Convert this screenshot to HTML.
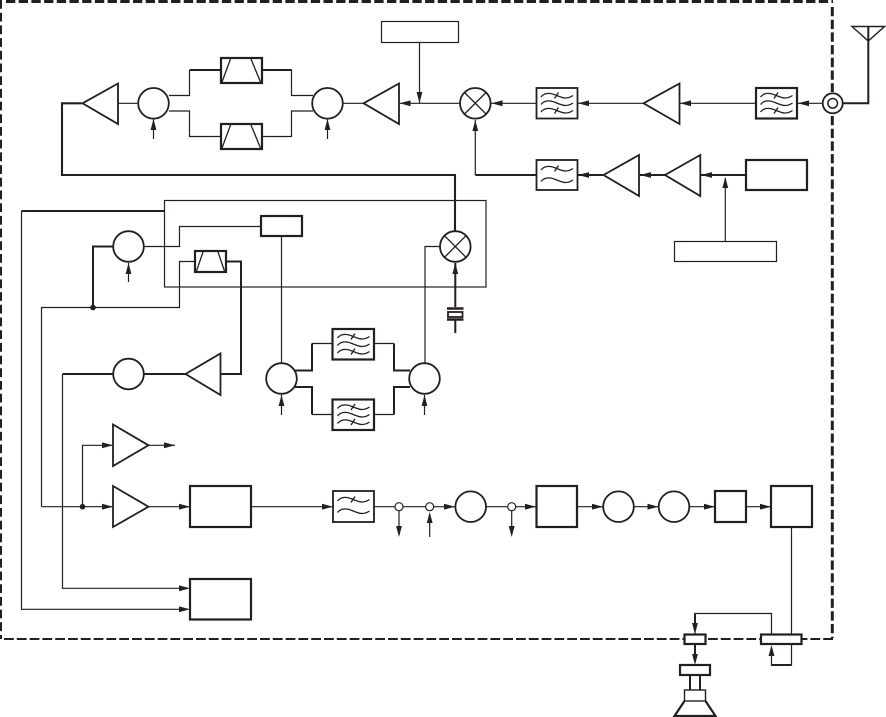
<!DOCTYPE html>
<html><head><meta charset="utf-8"><style>
html,body{margin:0;padding:0;background:#fff}
svg{display:block}
</style></head><body>
<svg width="886" height="717" viewBox="0 0 886 717" xmlns="http://www.w3.org/2000/svg" fill="none" stroke="#231f20" stroke-width="1.2">
<defs>
<path id="aL" d="M0 0L11 -2.900L11 2.900Z" fill="#231f20" stroke="none"/>
<path id="aR" d="M0 0L-11 -2.900L-11 2.900Z" fill="#231f20" stroke="none"/>
<path id="aU" d="M0 0L-2.900 11L2.900 11Z" fill="#231f20" stroke="none"/>
<path id="aD" d="M0 0L-2.900 -11L2.900 -11Z" fill="#231f20" stroke="none"/>
<g id="w3"><path d="M4.500 9C8 4.500 13 4.500 19 7S30 12 36.500 7.500M4.500 16.500C8 12 13 12 19 14.500S30 19.500 36.500 15M4.500 24C8 19.500 13 19.500 19 22S30 27 36.500 22.500M18 10.500L22 4.500M18 25.500L22 19.500" stroke-width="1.300"/></g>
<g id="w2"><path d="M4.500 10C8 5.500 13 5.500 19 8S30 13 36.500 8.500M4.500 21.500C8 17 13 17 19 19.500S30 24.500 36.500 20M18 11.500L22 5.500" stroke-width="1.300"/></g>
</defs>

<!-- dashed enclosure -->
<path d="M6 1.500H833" stroke-width="3" stroke-dasharray="9.300 3.400"/>
<path d="M0.500 0V639" stroke-width="3" stroke-dasharray="8.800 3.900"/>
<path d="M832.300 7V92M832.300 116V638" stroke-width="3" stroke-dasharray="9.300 3.400"/>
<path d="M833 639H3" stroke-width="2" stroke-dasharray="9.800 3"/>

<!-- top chain thick feedback -->
<path d="M82 103.300H62V175H455V231" stroke-width="2.100"/>
<path d="M118 103.300H138M169 95.500H189.500V70M169 111H189.500V136.500H221M262 136.500H291.500V111H313M262 70H291.500V95.500H313M343 103.300H363" />
<path d="M189.500 70H221M262 70H291.500" stroke-width="2"/>
<path d="M399 103.300H460M419.500 42V103M491 103.300H536M578 103.300H643M680 103.300H755.500M798 103.300H822.500M475.300 120V175" />
<path d="M842.500 103.300H868.300V27" stroke-width="2"/>
<path d="M852 26.500H884.500L868.300 41Z" stroke-width="1.400"/>

<!-- amps -->
<path d="M82.500 103.300L118 83.500V124Z M363.500 103.300L399 83.500V124Z M643.500 103.300L679.500 83.500V124Z M603.500 175L639 155V196Z M665 175L700.300 155V196Z M185.500 374L220.500 353.500V395Z M113 424.500L148.500 445.300L113 466Z M113 486L148.500 506.700L113 527Z" stroke-width="1.800"/>

<!-- circles -->
<g fill="#fff" stroke-width="1.800">
<circle cx="153.500" cy="103.300" r="15.300"/>
<circle cx="327.500" cy="103.300" r="15.300"/>
<circle cx="475.300" cy="103.300" r="15.300"/>
<circle cx="128.500" cy="246.500" r="15.300"/>
<circle cx="455.300" cy="246.500" r="15.300"/>
<circle cx="128.500" cy="374" r="15.300"/>
<circle cx="281.500" cy="378.500" r="15.300"/>
<circle cx="424.500" cy="378.500" r="15.300"/>
<circle cx="470.700" cy="506.700" r="15.300"/>
<circle cx="618.500" cy="506.700" r="15.300"/>
<circle cx="674" cy="506.700" r="15.300"/>
<circle cx="832.700" cy="103.300" r="10"/>
<circle cx="832.700" cy="103.300" r="4.800" stroke-width="1.500"/>
</g>
<path d="M464.500 92.500L486 114M486 92.500L464.500 114M444.500 235.700L466 257.300M466 235.700L444.500 257.300" stroke-width="1.300"/>

<!-- SAW filters -->
<g stroke-width="2.200">
<rect x="221" y="58" width="41" height="25"/>
<rect x="221" y="124" width="41" height="25"/>
<rect x="195" y="251" width="31" height="21"/>
</g>
<path d="M222 82L230.500 59M251 59L260.500 82M222 148L230.500 125M251 125L260.500 148M196.500 271L203 252M218 252L224.500 271" stroke-width="1.300"/>

<!-- wave filters -->
<g stroke-width="1.800">
<rect x="536.500" y="88" width="41" height="30.500"/>
<rect x="536.500" y="160" width="41" height="30"/>
<rect x="333" y="491" width="41" height="31"/>
</g>
<g stroke-width="2.200">
<rect x="756" y="88" width="41" height="30.500"/>
<rect x="332.500" y="329" width="41.500" height="30.500"/>
<rect x="332.500" y="399.500" width="41.500" height="30.500"/>
</g>
<use href="#w3" x="536.500" y="88"/>
<use href="#w3" x="756" y="88"/>
<use href="#w3" x="333" y="329"/>
<use href="#w3" x="333" y="399.500"/>
<use href="#w2" x="536.500" y="160"/>
<use href="#w2" x="333" y="491"/>

<!-- boxes -->
<rect x="381.500" y="21.500" width="77" height="21"/>
<rect x="674.500" y="241.500" width="102" height="20"/>
<rect x="164.500" y="200.500" width="321.500" height="86.500"/>
<g stroke-width="2.200">
<rect x="746" y="160" width="61" height="30"/>
<rect x="261" y="216" width="41" height="20"/>
<rect x="190" y="486" width="61" height="41"/>
<rect x="190" y="579" width="61" height="40.500"/>
<rect x="536.500" y="486" width="40.500" height="41"/>
<rect x="715" y="491" width="31" height="31"/>
<rect x="771" y="486" width="41" height="41"/>
<rect x="761" y="634.500" width="40.500" height="9.500" fill="#fff"/>
<rect x="684.500" y="634.500" width="21" height="9.500" fill="#fff"/>
<rect x="680" y="665" width="30" height="10"/>
</g>

<!-- row 2 wiring -->
<path d="M475.300 175H536M578 175H603M640 175H665M701 175H746" stroke-width="2"/>
<path d="M725.300 241.500V178"/>

<!-- left and middle wiring -->
<path d="M164 211H21.500" stroke-width="2"/>
<path d="M21.500 211V609.300H180"/>
<path d="M113 246.500H93V307.500" stroke-width="2"/>
<path d="M41.500 506.700V307.500H179.500V261.500H195M144 246.500H179.500V226.500H261M281.500 236V363M425 363V246.500H440"/>
<path d="M226 261.500H241V374H220.500" stroke-width="2"/>
<path d="M144 374H185.500M113 374H62.500" stroke-width="2"/>
<path d="M62.500 374V588.300H180"/>
<path d="M455.300 263V307" stroke-width="2"/>

<!-- crystal -->
<path d="M447 308.500H463.500M447 319.500H463.500" stroke-width="2.400"/>
<rect x="448" y="312" width="14.500" height="5" stroke-width="1.800"/>
<path d="M455.300 320V333" stroke-width="2"/>

<!-- duplex filters wiring -->
<path d="M312 343.500H333M312 414.500H333M374 343.500H394M374 414.500H394"/>
<path d="M295 370.500H312V343.500M295 387H312V414.500M394 343.500V370.500H410M394 414.500V387H410" stroke-width="2"/>

<!-- bottom row wiring -->
<path d="M41.500 506.700H113M82.500 506.700V445.300H113M148.500 445.300H175M148.500 506.700H190M251 506.700H333M374 506.700H455M486 506.700H536M577 506.700H603M634 506.700H658.500M689.500 506.700H715M746 506.700H771M399 511V535M429.700 514V537M511.700 511V535M791.500 527V634.500"/>
<circle cx="399" cy="506.700" r="4" fill="#fff"/>
<circle cx="429.700" cy="506.700" r="4" fill="#fff"/>
<circle cx="511.700" cy="506.700" r="4" fill="#fff"/>
<circle cx="93" cy="307.500" r="2.800" fill="#231f20" stroke="none"/>
<circle cx="82.500" cy="506.700" r="2.800" fill="#231f20" stroke="none"/>

<!-- speaker / output -->
<path d="M771.500 634.500V613.500H695V634M791.500 644V665H771.500V648" />
<path d="M771.500 665H791.500M695 613.500V625M695 644V658" stroke-width="2"/>
<path d="M690 675V690M700 675V690" stroke-width="2"/>
<rect x="684.500" y="690" width="21" height="11" stroke-width="1.400"/>
<path d="M684.500 701L674.500 716H715.500L705.500 701" stroke-width="2.200"/>

<!-- small vertical control inputs -->
<path d="M153.500 119V139M327.500 119V139M128.500 263V282M281.500 395V415M424.500 395V415"/>

<!-- arrowheads -->
<g>
<use href="#aU" x="153.500" y="119"/>
<use href="#aU" x="327.500" y="119"/>
<use href="#aU" x="128.500" y="263"/>
<use href="#aU" x="281.500" y="395"/>
<use href="#aU" x="424.500" y="395"/>
<use href="#aU" x="455.300" y="263"/>
<use href="#aU" x="475.300" y="120"/>
<use href="#aU" x="725.300" y="177"/>
<use href="#aU" x="429.700" y="512"/>
<use href="#aU" x="771.500" y="645"/>
<use href="#aD" x="419.500" y="103"/>
<use href="#aD" x="399" y="537"/>
<use href="#aD" x="511.700" y="537"/>
<use href="#aD" x="695" y="634"/>
<use href="#aD" x="695" y="665"/>
<use href="#aL" x="399.500" y="103.300"/>
<use href="#aL" x="491.500" y="103.300"/>
<use href="#aL" x="578" y="103.300"/>
<use href="#aL" x="680" y="103.300"/>
<use href="#aL" x="798" y="103.300"/>
<use href="#aL" x="578" y="175"/>
<use href="#aL" x="640" y="175"/>
<use href="#aL" x="701" y="175"/>
<use href="#aR" x="113" y="445.300"/>
<use href="#aR" x="113" y="506.700"/>
<use href="#aR" x="175" y="445.300"/>
<use href="#aR" x="190" y="506.700"/>
<use href="#aR" x="333" y="506.700"/>
<use href="#aR" x="190" y="588.300"/>
<use href="#aR" x="190" y="609.300"/>
<use href="#aR" x="455" y="506.700"/>
<use href="#aR" x="536" y="506.700"/>
<use href="#aR" x="603" y="506.700"/>
<use href="#aR" x="658.500" y="506.700"/>
<use href="#aR" x="715" y="506.700"/>
<use href="#aR" x="771" y="506.700"/>
</g>
</svg>
</body></html>
